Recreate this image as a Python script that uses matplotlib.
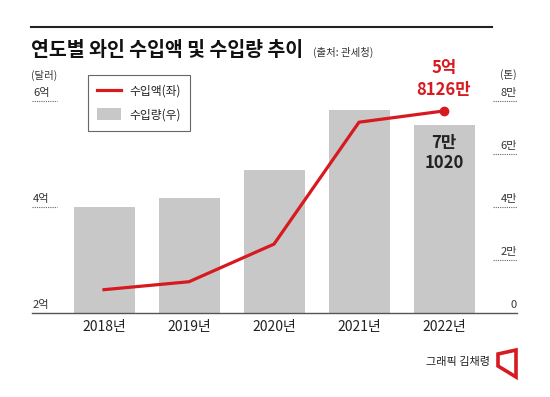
import matplotlib
matplotlib.use('Agg')
import matplotlib.pyplot as plt
import matplotlib.transforms as mtransforms
from matplotlib.lines import Line2D
from matplotlib.patches import Patch, Polygon

plt.rcParams['font.family'] = ['Noto Sans CJK KR', 'DejaVu Sans']

years = ['2018년', '2019년', '2020년', '2021년', '2022년']
import_value = [2.44e8, 2.59e8, 3.30e8, 5.60e8, 5.8126e8]   # 수입액 (달러)
import_volume = [40000, 43400, 54000, 76575, 71020]       # 수입량 (톤)
left_ticks = [2e8, 4e8, 6e8]
left_labels = ['2억', '4억', '6억']
right_ticks = [0, 20000, 40000, 60000, 80000]
right_labels = ['0', '2만', '4만', '6만', '8만']

RED = '#d71920'
BAR = '#c8c8c8'
TXT = '#333333'

W, H = 550, 397
def fx(px):
    return px / W
def fy(py):
    return 1 - py / H

fig = plt.figure(figsize=(5.5, 3.97), dpi=100)

# bars (right axis, tons)
ax = fig.add_axes([fx(32), fy(313), fx(517) - fx(32), fy(101) - fy(313)])
x = list(range(len(years)))
ax.bar(x, import_volume, width=61 / 85, color=BAR, zorder=1)
ax.set_xlim(-72 / 85, 413 / 85)
ax.set_ylim(0, 80000)
ax.set_yticks([])
ax.set_xticks(x, years)
ax.tick_params(axis='x', length=0, pad=5, labelsize=10, labelcolor='#222222')
for s in ['top', 'left', 'right']:
    ax.spines[s].set_visible(False)
ax.spines['bottom'].set_color('#555555')
ax.spines['bottom'].set_linewidth(1)

# line (left axis, dollars)
ax2 = ax.twinx()
ax2.set_ylim(2e8, 6e8)
ax2.set_yticks([])
for s in ['top', 'left', 'right', 'bottom']:
    ax2.spines[s].set_visible(False)
ax2.plot(x, import_value, color=RED, lw=2.3, zorder=3)
ax2.plot([x[-1]], [import_value[-1]], 'o', color=RED, ms=6, zorder=4)

# short dotted grid marks + tick labels
tl = mtransforms.blended_transform_factory(ax2.transAxes, ax2.transData)
for v, lab in zip(left_ticks, left_labels):
    if v > left_ticks[0]:
        ax2.plot([0, 25 / 485], [v, v], transform=tl, color='#666666',
                 lw=0.8, ls=(0, (1, 1)), clip_on=False)
    ax2.annotate(lab, xy=(0.002, v), xycoords=tl, xytext=(0, 2),
                 textcoords='offset points', ha='left', va='bottom',
                 fontsize=8, color=TXT)

tr = mtransforms.blended_transform_factory(ax.transAxes, ax.transData)
for v, lab in zip(right_ticks, right_labels):
    if v > right_ticks[0]:
        ax.plot([461 / 485, 1], [v, v], transform=tr, color='#666666',
                lw=0.8, ls=(0, (1, 1)), clip_on=False)
    ax.annotate(lab, xy=(1, v), xycoords=tr, xytext=(0, 2),
                textcoords='offset points', ha='right', va='bottom',
                fontsize=8, color=TXT)

fig.text(fx(31), fy(75), '(달러)', ha='left', va='center', fontsize=7.5, color=TXT)
fig.text(fx(517), fy(75), '(톤)', ha='right', va='center', fontsize=7.5, color=TXT)

# value callouts
ax2.annotate('5억\n8126만', xy=(x[-1], import_value[-1]), xytext=(0, 23),
             textcoords='offset points', ha='center', va='center',
             fontsize=12, fontweight='bold', color=RED, linespacing=1.3)
ax.annotate('7만\n1020', xy=(x[-1], import_volume[-1]), xytext=(0, -20),
            textcoords='offset points', ha='center', va='center',
            fontsize=12, fontweight='bold', color='#222222', linespacing=1.15)

# legend
handles = [Line2D([], [], color=RED, lw=2.3), Patch(facecolor=BAR)]
leg = fig.legend(handles, ['수입액(좌)', '수입량(우)'], loc='upper left',
                 bbox_to_anchor=(fx(88), fy(75)), frameon=True, fancybox=False,
                 edgecolor='#666666', framealpha=1, fontsize=8.5,
                 handlelength=2.0, handleheight=1.1, handletextpad=0.7,
                 labelspacing=0.9, borderpad=0.8, borderaxespad=0)
leg.get_frame().set_linewidth(0.8)
for t in leg.get_texts():
    t.set_color('#222222')

# title area
fig.add_artist(Line2D([fx(31), fx(492)], [fy(27), fy(27)], color='#222222', lw=1.5))
fig.text(fx(31), fy(50), '연도별 와인 수입액 및 수입량 추이', ha='left', va='center',
         fontsize=14, fontweight='heavy', color='#111111')
fig.text(fx(313), fy(52), '(출처: 관세청)', ha='left', va='center',
         fontsize=7.5, color=TXT)

# credit
fig.text(fx(490), fy(362), '그래픽 김채령', ha='right', va='center',
         fontsize=8, color='#222222')
fig.add_artist(Polygon([(fx(498), fy(354)), (fx(516), fy(350)),
                        (fx(516), fy(377)), (fx(498), fy(366))],
                       closed=True, fill=False, edgecolor=RED, lw=2.6,
                       joinstyle='miter', transform=fig.transFigure))

fig.savefig('out.png', dpi=100)
